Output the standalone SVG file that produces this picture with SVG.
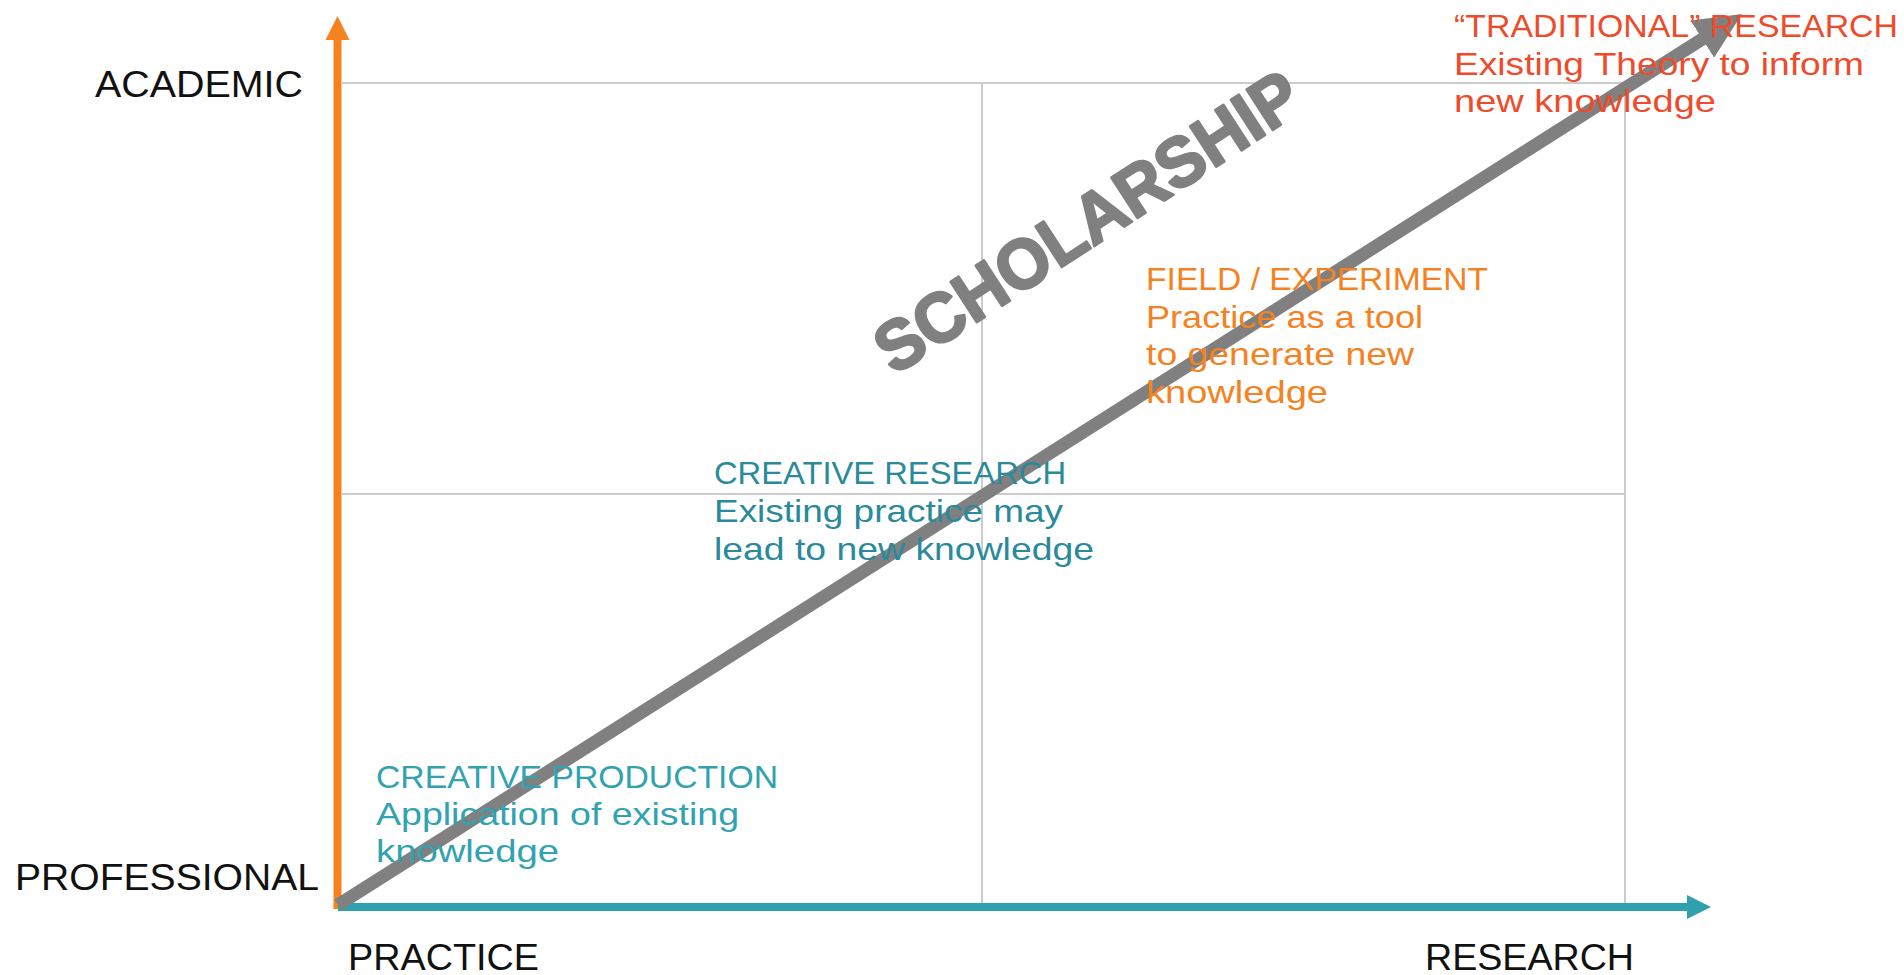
<svg xmlns="http://www.w3.org/2000/svg" width="1904" height="975" viewBox="0 0 1904 975">
  <style>
    text { font-family: "Liberation Sans", Arial, sans-serif; }
    .axis { font-size: 36px; fill: #111111; }
    .lbl { font-size: 32px; }
    .red { fill: #EF4B2B; }
    .org { fill: #F5821F; }
    .tealdk { fill: #2A8A9B; }
    .teal { fill: #30A2B0; }
    .grid { stroke: #CCCCCC; stroke-width: 2; fill: none; }
    .big { font-size: 70px; font-weight: bold; fill: #808080; stroke: #808080; stroke-width: 2.5; stroke-linejoin: round; }
  </style>
  <defs>
    <marker id="headOrange" markerUnits="userSpaceOnUse" markerWidth="24" markerHeight="24" refX="1" refY="12" orient="auto" viewBox="0 0 24 24">
      <path d="M0,0 L24,12 L0,24 Z" fill="#F5821F"/>
    </marker>
    <marker id="headTeal" markerUnits="userSpaceOnUse" markerWidth="24" markerHeight="24" refX="1" refY="12" orient="auto" viewBox="0 0 24 24">
      <path d="M0,0 L24,12 L0,24 Z" fill="#2FA0AD"/>
    </marker>
    <marker id="headGray" markerUnits="userSpaceOnUse" markerWidth="47" markerHeight="44" refX="2" refY="22" orient="auto" viewBox="0 0 47 44">
      <path d="M0,0 L47,22 L0,44 Z" fill="#808080"/>
    </marker>
  </defs>

  <g id="grid">
    <line class="grid" x1="342" y1="83" x2="1625" y2="83"/>
    <line class="grid" x1="342" y1="494" x2="1625" y2="494"/>
    <line class="grid" x1="982" y1="83" x2="982" y2="903"/>
    <line class="grid" x1="1625" y1="83" x2="1625" y2="903"/>
  </g>

  <g id="connectors">
    <line id="axis-y" x1="337.5" y1="909" x2="337.5" y2="39" stroke="#F5821F" stroke-width="8" marker-end="url(#headOrange)"/>
    <line id="axis-x" x1="338" y1="907" x2="1688" y2="907" stroke="#2FA0AD" stroke-width="8" marker-end="url(#headTeal)"/>
    <line id="scholarship-arrow" x1="338" y1="905" x2="1704" y2="38" stroke="#808080" stroke-width="13" marker-end="url(#headGray)"/>
  </g>

  <g id="scholarship">
    <text class="big" transform="translate(1087,221) rotate(-33)" x="0" y="25" text-anchor="middle" textLength="492" lengthAdjust="spacingAndGlyphs">SCHOLARSHIP</text>
  </g>

  <g id="label-academic"><text class="axis" x="95" y="97" textLength="208" lengthAdjust="spacingAndGlyphs">ACADEMIC</text></g>
  <g id="label-professional"><text class="axis" x="15" y="890" textLength="304" lengthAdjust="spacingAndGlyphs">PROFESSIONAL</text></g>
  <g id="label-practice"><text class="axis" x="348" y="970" textLength="191" lengthAdjust="spacingAndGlyphs">PRACTICE</text></g>
  <g id="label-research"><text class="axis" x="1425" y="970" textLength="209" lengthAdjust="spacingAndGlyphs">RESEARCH</text></g>

  <g id="node-traditional" class="lbl red">
    <text x="1454" y="37" textLength="444" lengthAdjust="spacingAndGlyphs">“TRADITIONAL” RESEARCH</text>
    <text x="1454" y="74.5" textLength="410" lengthAdjust="spacingAndGlyphs">Existing Theory to inform</text>
    <text x="1454" y="112" textLength="262" lengthAdjust="spacingAndGlyphs">new knowledge</text>
  </g>

  <g id="node-field" class="lbl org">
    <text x="1146" y="290" textLength="342" lengthAdjust="spacingAndGlyphs">FIELD / EXPERIMENT</text>
    <text x="1146" y="327.5" textLength="277" lengthAdjust="spacingAndGlyphs">Practice as a tool</text>
    <text x="1146" y="365" textLength="268" lengthAdjust="spacingAndGlyphs">to generate new</text>
    <text x="1146" y="403" textLength="182" lengthAdjust="spacingAndGlyphs">knowledge</text>
  </g>

  <g id="node-creative-research" class="lbl tealdk">
    <text x="714" y="484" textLength="352" lengthAdjust="spacingAndGlyphs">CREATIVE RESEARCH</text>
    <text x="714" y="522" textLength="349" lengthAdjust="spacingAndGlyphs">Existing practice may</text>
    <text x="714" y="559.5" textLength="380" lengthAdjust="spacingAndGlyphs">lead to new knowledge</text>
  </g>

  <g id="node-creative-production" class="lbl teal">
    <text x="376" y="788" textLength="402" lengthAdjust="spacingAndGlyphs">CREATIVE PRODUCTION</text>
    <text x="376" y="825" textLength="363" lengthAdjust="spacingAndGlyphs">Application of existing</text>
    <text x="376" y="862" textLength="183" lengthAdjust="spacingAndGlyphs">knowledge</text>
  </g>
</svg>
